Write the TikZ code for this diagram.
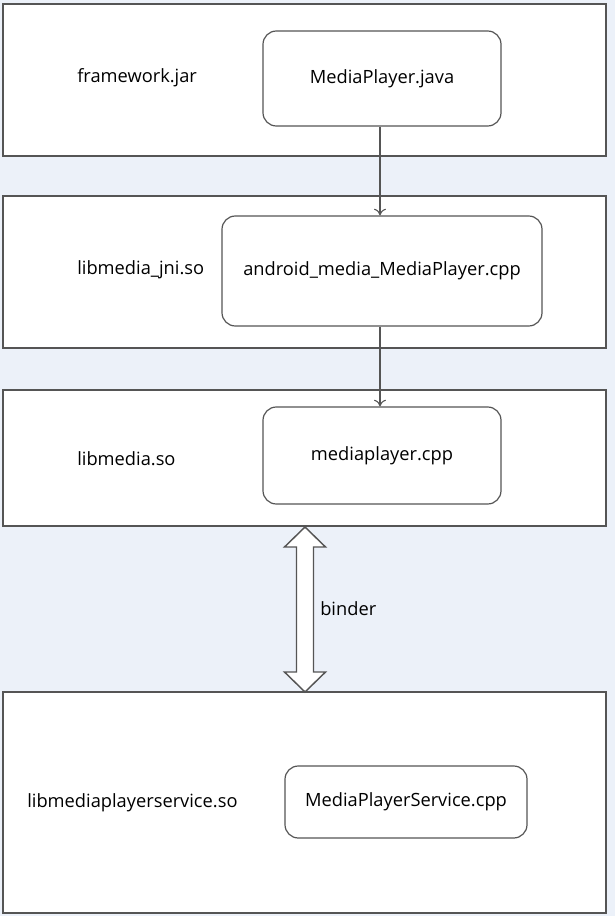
\documentclass[tikz,border=0pt]{standalone}
\usepackage{fontspec}
\setmainfont{Open Sans}
\usepackage{xcolor}
\usetikzlibrary{positioning, arrows.meta, calc}

\definecolor{bgblue}{HTML}{ECF1F9}
\definecolor{linegray}{HTML}{555555}

\begin{document}
\begin{tikzpicture}[x=0.75pt, y=-0.75pt,
    font=\fontsize{13.7}{16}\selectfont,
    layer/.style = {draw=linegray, line width=0.9pt, fill=white, inner sep=0pt, minimum width=452.25pt},
    file/.style = {draw=linegray, line width=0.9pt, fill=white, rounded corners=10pt, inner sep=0pt},
    label/.style = {anchor=west, inner sep=0pt},
    call/.style = {draw=linegray, line width=0.8pt, -{To[length=5pt,width=9pt]}},
    fatarrow/.style = {draw=linegray, line width=1.1pt, fill=white, line join=miter}]

    \fill[bgblue] (0,0) rectangle (615,916);
    \useasboundingbox (0,0) rectangle (615,916);

    % layers
    \node[layer, minimum height=114pt] (jarlayer) at (304.5,80) {};
    \node[layer, minimum height=114pt] (jnilayer) at (304.5,272) {};
    \node[layer, minimum height=102pt] (medialayer) at (304.5,458) {};
    \node[layer, minimum height=165.75pt] (servicelayer) at (304.5,802.5) {};

    \node[label] (jarname) at (77,78) {framework.jar};
    \node[label] (jniname) at (77,270) {libmedia\_jni.so};
    \node[label] (medianame) at (77,459) {libmedia.so};
    \node[label] (servicename) at (27,803) {libmediaplayerservice.so};

    % source files
    \node[file, minimum width=178.5pt, minimum height=71.25pt] (jar) at (382,78.5) {MediaPlayer.java};
    \node[file, minimum width=240pt, minimum height=82.5pt] (jni) at (382,271) {android\_media\_MediaPlayer.cpp};
    \node[file, minimum width=178.5pt, minimum height=72.75pt] (media) at (382,455.5) {mediaplayer.cpp};
    \node[file, minimum width=181.5pt, minimum height=54pt] (service) at (406,802) {MediaPlayerService.cpp};

    \draw[call] ([xshift=-1.5pt]jar.south) -- ([xshift=-1.5pt]jni.north);
    \draw[call] ([xshift=-1.5pt]jni.south) -- ([xshift=-1.5pt]media.north);

    % binder
    \coordinate (bt) at (305,527);
    \coordinate (bb) at (305,692);
    \draw[fatarrow] (bt) -- ++(20.5,20) -- ++(-12,0) -- ($(bb)+(8.5,-20)$)
        -- ++(12,0) -- (bb) -- ++(-20.5,-20) -- ++(12,0) -- ($(bt)+(-8.5,20)$)
        -- ++(-12,0) -- cycle;
    \node[label] (binder) at (320,609) {binder};

\end{tikzpicture}
\end{document}
